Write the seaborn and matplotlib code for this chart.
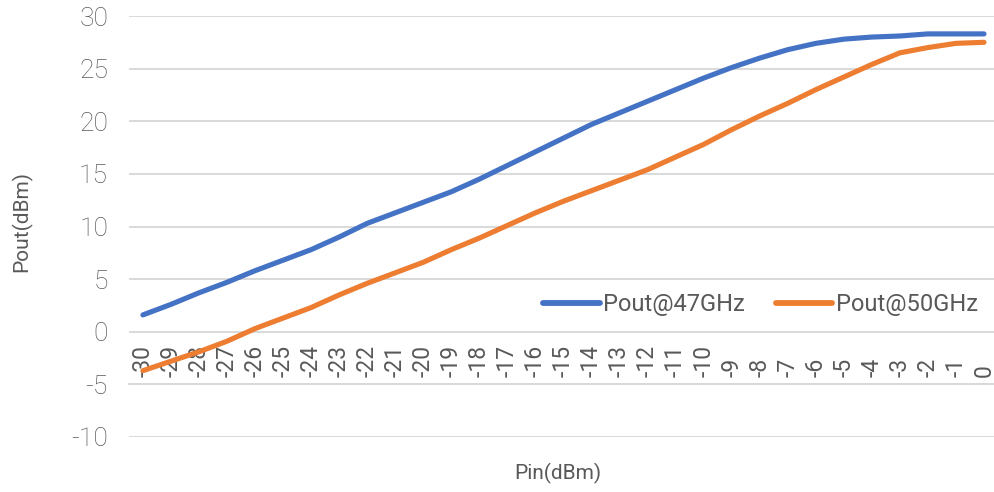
import matplotlib
matplotlib.use("Agg")
import matplotlib.pyplot as plt
import seaborn as sns
import pandas as pd

pin = list(range(-30, 1))
pout_47 = [1.6, 2.6, 3.7, 4.7, 5.8, 6.8, 7.8, 9.0, 10.3, 11.3, 12.3, 13.3, 14.5,
           15.8, 17.1, 18.4, 19.7, 20.8, 21.9, 23.0, 24.1, 25.1, 26.0, 26.8, 27.4,
           27.8, 28.0, 28.1, 28.3, 28.3, 28.3]
pout_50 = [-3.7, -2.8, -1.9, -0.9, 0.3, 1.3, 2.3, 3.5, 4.6, 5.6, 6.6, 7.8, 8.9,
           10.1, 11.3, 12.4, 13.4, 14.4, 15.4, 16.6, 17.8, 19.2, 20.5, 21.7, 23.0,
           24.2, 25.4, 26.5, 27.0, 27.4, 27.5]
series_names = ["Pout@47GHz", "Pout@50GHz"]
colors = ["#4472C4", "#ED7D31"]
y_ticks = [-10, -5, 0, 5, 10, 15, 20, 25, 30]

df = pd.DataFrame({
    "Pin": pin * 2,
    "Pout": pout_47 + pout_50,
    "series": [series_names[0]] * len(pin) + [series_names[1]] * len(pin),
})

sns.set_style("white")
plt.rcParams["font.family"] = ["Roboto", "DejaVu Sans"]
txt = "#595959"

fig = plt.figure(figsize=(9.95, 4.92), dpi=100)
W, H = 995, 492
left, right, top, bottom = 128.9, 998.0, 16, 437
ax = fig.add_axes([left / W, 1 - bottom / H, (right - left) / W, (bottom - top) / H])

sns.lineplot(data=df, x="Pin", y="Pout", hue="series", palette=colors,
             linewidth=3.7, ax=ax, legend=True, solid_capstyle="round")

ax.set_xlim(-30.5, 0.5)
ax.set_ylim(-10, 30)
ax.set_yticks(y_ticks)
ax.set_yticklabels([str(v) for v in y_ticks])
ax.set_xticks(pin)
ax.set_xticklabels([str(v) for v in pin])

ax.yaxis.grid(True, color="#D9D9D9", linewidth=1.4)
ax.xaxis.grid(False)
ax.set_axisbelow(True)
for s in ["top", "right", "left"]:
    ax.spines[s].set_visible(False)
ax.spines["bottom"].set_position(("data", -5))
ax.spines["bottom"].set_color("#D9D9D9")
ax.spines["bottom"].set_linewidth(1.4)

ax.tick_params(axis="y", length=0, pad=15, labelsize=19, labelcolor=txt)
ax.tick_params(axis="x", direction="inout", length=10, width=1.2, color="#7F7F7F",
               pad=-10, labelsize=16.5, labelcolor=txt, labelrotation=90)
for lbl in ax.get_xticklabels():
    lbl.set_va("bottom")
for lbl in ax.get_yticklabels():
    lbl.set_fontweight("light")
for t in ax.xaxis.get_major_ticks()[21:]:
    t.tick1line.set_visible(False)

ax.set_xlabel("")
ax.set_ylabel("")
fig.text(22 / W, 1 - 221 / H, "Pout(dBm)", rotation=90, ha="center", va="center",
         fontsize=15, color=txt)
fig.text(558 / W, 1 - 473 / H, "Pin(dBm)", ha="center", va="center",
         fontsize=15, color=txt)

handles, labels = ax.get_legend_handles_labels()
leg = ax.legend(handles, labels, loc="center left",
                bbox_to_anchor=((543 - left) / (right - left), (bottom - 305) / (bottom - top)),
                ncol=2, frameon=False, fontsize=17, handlelength=2.4,
                handletextpad=0.15, columnspacing=1.3, borderpad=0, borderaxespad=0)
for t in leg.get_texts():
    t.set_color(txt)
for lh in leg.get_lines():
    lh.set_linewidth(4.2)
    lh.set_solid_capstyle("round")

fig.savefig("out.png", dpi=100)
